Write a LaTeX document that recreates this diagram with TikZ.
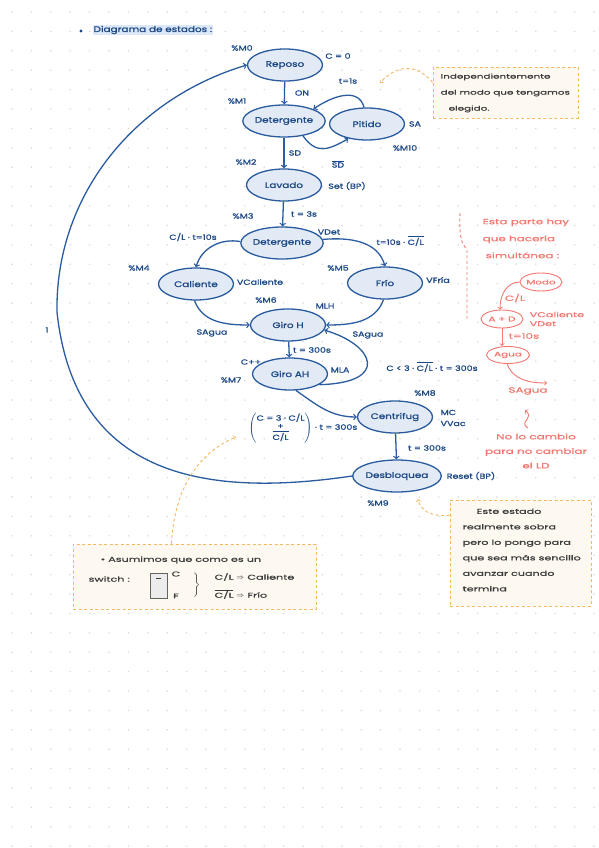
\documentclass[tikz,border=0pt]{standalone}
\usepackage{fontspec}
\setmainfont{Poppins}[FakeStretch=1.3, FakeBold=1.2]
\newfontfamily\notefont{Poppins}[FakeStretch=1.6, FakeBold=0.8]
\usetikzlibrary{shapes.geometric}
\definecolor{azul}{HTML}{1C4886}
\definecolor{azullinea}{HTML}{2A5C9F}
\definecolor{azulclaro}{HTML}{E2EAF5}
\definecolor{resalte}{HTML}{DCE8F8}
\definecolor{naranja}{HTML}{F6B862}
\definecolor{crema}{HTML}{FDF8F0}
\definecolor{rojo}{HTML}{F27870}
\definecolor{gris}{HTML}{3C3C3C}
\definecolor{punto}{HTML}{D6D6D6}
\newcommand{\ovl}[1]{$\overline{\hbox{#1}}$}
\begin{document}
\begin{tikzpicture}[x=1pt, y=1pt, line width=1.3pt, >=to,
  estado/.style={ellipse, draw=azullinea, fill=azulclaro, minimum width=75pt, minimum height=32pt, inner sep=0pt, text=azul, font=\fontsize{8}{9}\selectfont},
  lbl/.style={text=azul, inner sep=0pt, font=\fontsize{7.3}{8}\selectfont},
  arco/.style={draw=azullinea, ->},
  nota/.style={draw=naranja, dash pattern=on 3pt off 2.5pt, fill=crema, line width=0.9pt, inner sep=0pt},
  conexion/.style={draw=naranja, dash pattern=on 3pt off 2.5pt, line width=0.9pt, ->},
  txtnota/.style={text=gris, inner sep=0pt, align=left, font=\notefont\fontsize{7}{8}\selectfont},
  txtrojo/.style={text=rojo, inner sep=0pt, align=left, font=\notefont\fontsize{7.5}{8}\selectfont},
  estrojo/.style={ellipse, draw=rojo, fill=white, minimum width=42pt, minimum height=18pt, inner sep=0pt, text=rojo, line width=0.9pt, font=\notefont\fontsize{6.5}{7}\selectfont},
  flecharoja/.style={draw=rojo, line width=0.9pt, ->}]
  \useasboundingbox (0,0) rectangle (599,-848);
  \fill[white] (0,0) rectangle (599,-848);
  \foreach \i in {0,...,30}
    \foreach \j in {0,...,43}
      \fill[punto] (12+19.4*\i, -12-19.4*\j) circle (0.8pt);

  \fill[azul] (81,-31) circle (1.7pt);
  \node[lbl, fill=resalte, inner sep=1pt, font=\fontsize{8}{9}\selectfont, anchor=west] (titulo) at (92,-30) {Diagrama de estados :};

  \node[estado] (reposo) at (285,-65) {Reposo};
  \node[estado] (deter1) at (284,-121) {Detergente};
  \node[estado] (pitido) at (367,-124) {Pitido};
  \node[estado] (lavado) at (284,-185) {Lavado};
  \node[estado] (deter2) at (282,-243) {Detergente};
  \node[estado] (caliente) at (196,-284) {Caliente};
  \node[estado] (frio) at (385,-283) {Frío};
  \node[estado] (giroh) at (288,-325) {Giro H};
  \node[estado] (giroah) at (290,-374) {Giro AH};
  \node[estado] (centrifug) at (395,-417) {Centrifug};
  \node[estado] (desbloq) at (397,-476) {Desbloquea};

  \draw[arco] (reposo) -- (deter1);
  \draw[arco] (deter1) -- (lavado);
  \draw[arco] (lavado) -- (deter2);
  \draw[arco] (deter1.-38) to[out=-55, in=210, looseness=1.3] (pitido.218);
  \draw[arco] (pitido.100) to[out=105, in=35, looseness=1.1] (deter1.22);
  \draw[arco] (deter2.178) to[out=170, in=75] (caliente.north);
  \draw[arco] (deter2.5) to[out=5, in=105] (frio.north);
  \draw[arco] (caliente.-95) to[out=-70, in=180] (giroh.west);
  \draw[arco] (frio.-95) to[out=-110, in=0] (giroh.east);
  \draw[arco] (giroh) -- (giroah);
  \draw[arco] (giroah.-20) .. controls (390,-383) and (375,-345) .. (giroh.-8);
  \draw[arco] (giroah.-70) to[out=-35, in=180] (centrifug.west);
  \draw[arco] (centrifug) -- (desbloq);
  \coordinate (izq) at (57,-312);
  \draw[arco] (desbloq.west) .. controls (210,-497) and (75,-480) .. (izq) .. controls (55,-200) and (130,-100) .. (reposo.west);

  \node[lbl] (m0) at (242,-48) {\%M0};
  \node[lbl] (c0) at (338,-56) {C = 0};
  \node[lbl] (on) at (302,-93) {ON};
  \node[lbl] (m1) at (237,-101) {\%M1};
  \node[lbl] (t1) at (348,-81) {t=1s};
  \node[lbl] (sa) at (415,-124) {SA};
  \node[lbl] (m10) at (405,-148) {\%M10};
  \node[lbl] (sd) at (295,-153) {SD};
  \node[lbl] (nsd) at (338,-164) {\ovl{SD}};
  \node[lbl] (m2) at (246,-162) {\%M2};
  \node[lbl] (setbp) at (347,-186) {Set (BP)};
  \node[lbl] (m3) at (243,-216) {\%M3};
  \node[lbl] (t3) at (304,-214) {t = 3s};
  \node[lbl] (cl10) at (193,-237) {C/L · t=10s};
  \node[lbl] (vdet) at (329,-232) {VDet};
  \node[lbl] (ncl10) at (400,-241) {t=10s · \ovl{C/L}};
  \node[lbl] (m4) at (139,-268) {\%M4};
  \node[lbl] (vcal) at (260,-282) {VCaliente};
  \node[lbl] (m5) at (338,-268) {\%M5};
  \node[lbl] (vfria) at (438,-280) {VFría};
  \node[lbl] (m6) at (266,-300) {\%M6};
  \node[lbl] (mlh) at (325,-306) {MLH};
  \node[lbl] (sag1) at (212,-333) {SAgua};
  \node[lbl] (sag2) at (368,-335) {SAgua};
  \node[lbl] (t300a) at (312,-350) {t = 300s};
  \node[lbl] (cmas) at (251,-362) {C++};
  \node[lbl] (mla) at (340,-370) {MLA};
  \node[lbl] (m7) at (231,-380) {\%M7};
  \node[lbl] (cmenor) at (432,-367) {C < 3 · \ovl{C/L} · t = 300s};
  \node[lbl] (m8) at (425,-393) {\%M8};
  \node[lbl, anchor=west, align=left, font=\fontsize{7.3}{11}\selectfont] (mc) at (440,-418) {MC\\VVac};
  \node[lbl] (formula) at (303,-428) {$\left(\vcenter{\hbox{\begin{tabular}{@{}c@{}}C = 3 · C/L\\+\\\ovl{C/L}\end{tabular}}}\right)$ · t = 300s};
  \node[lbl] (t300b) at (427,-448) {t = 300s};
  \node[lbl] (reset) at (471,-476) {Reset (BP)};
  \node[lbl] (m9) at (378,-503) {\%M9};
  \node[lbl] (uno) at (47,-330) {1};

  \node[nota, minimum width=145pt, minimum height=51pt] (nota1) at (505.5,-92.5) {};
  \node[txtnota, anchor=north west, font=\notefont\fontsize{6.5}{16}\selectfont] (textonota1) at (440,-73) {Independientemente\\del modo que tengamos\\\hspace*{8pt}elegido.};
  \coordinate (n1fin) at (380,-83);
  \draw[conexion] (nota1.172) .. controls (415,-62) and (395,-66) .. (n1fin);

  \node[nota, minimum width=243pt, minimum height=65pt] (nota2) at (194.5,-576.5) {};
  \node[txtnota, anchor=west] (asumimos) at (100,-560) {• Asumimos que como es un};
  \node[txtnota, anchor=west] (switch) at (88,-579) {switch :};
  \node[draw=gris!80, fill=gray!15, line width=0.8pt, minimum width=17pt, minimum height=25pt, inner sep=0pt] (interruptor) at (158.5,-586) {};
  \draw[gris, line width=0.8pt] (156,-578) -- (161,-578);
  \node[txtnota] (posc) at (176,-574) {C};
  \node[txtnota] (posf) at (176,-596) {F};
  \node[txtnota] (llave) at (196,-585) {$\left.\vrule width 0pt height 10pt depth 10pt\right\}$};
  \node[txtnota, anchor=west] (acal) at (214,-577) {C/L $\Rightarrow$ Caliente};
  \node[txtnota, anchor=west] (afrio) at (214,-594) {\ovl{C/L} $\Rightarrow$ Frío};
  \coordinate (n2fin) at (236,-437);
  \draw[conexion] (nota2.125) .. controls (175,-480) and (205,-450) .. (n2fin);

  \node[nota, minimum width=141pt, minimum height=106pt] (nota3) at (520.5,-553) {};
  \node[txtnota, anchor=north west, font=\notefont\fontsize{7}{15.5}\selectfont] (textonota3) at (462,-508) {\hspace*{14pt}Este estado\\realmente sobra\\pero lo pongo para\\que sea más sencillo\\avanzar cuando\\termina};
  \coordinate (n3fin) at (418,-499);
  \draw[conexion] (nota3.152) .. controls (430,-517) and (420,-510) .. (n3fin);

  \draw[rojo, dash pattern=on 3pt off 2.5pt, line width=0.9pt] (460,-213) .. controls (459,-230) and (461,-240) .. (463,-244) -- (467,-250) -- (467,-320);
  \node[txtrojo, anchor=north west, font=\notefont\fontsize{7.5}{17}\selectfont] (simul) at (482,-218) {Esta parte hay\\que hacerla\\\hspace*{3pt}simultánea :};
  \node[estrojo] (modo) at (541,-282) {Modo};
  \node[estrojo] (ad) at (502,-319) {A + D};
  \node[estrojo, minimum width=43pt, minimum height=17pt] (agua) at (508,-355) {Agua};
  \draw[flecharoja] (modo.west) to[out=180, in=95] (ad.100);
  \draw[flecharoja] (ad.south) -- (ad.south |- agua.north);
  \coordinate (sal) at (547,-383);
  \draw[flecharoja] (agua.-95) to[out=-70, in=180] (sal);
  \node[txtrojo] (rcl) at (515,-298) {C/L};
  \node[txtrojo, anchor=west, font=\notefont\fontsize{7}{9}\selectfont] (rvs) at (529,-319) {VCaliente\\VDet};
  \node[txtrojo, anchor=west] (rt10) at (508,-336) {t=10s};
  \node[txtrojo] (rsag) at (528,-391) {SAgua};
  \coordinate (sq1) at (528,-428);
  \coordinate (sq2) at (525,-410);
  \draw[flecharoja] (sq1) .. controls (518,-422) and (535,-418) .. (sq2);
  \node[txtrojo, align=center, font=\notefont\fontsize{7.5}{14.5}\selectfont] (nocambio) at (536,-451) {No lo cambio\\para no cambiar\\el LD};
\end{tikzpicture}
\end{document}
